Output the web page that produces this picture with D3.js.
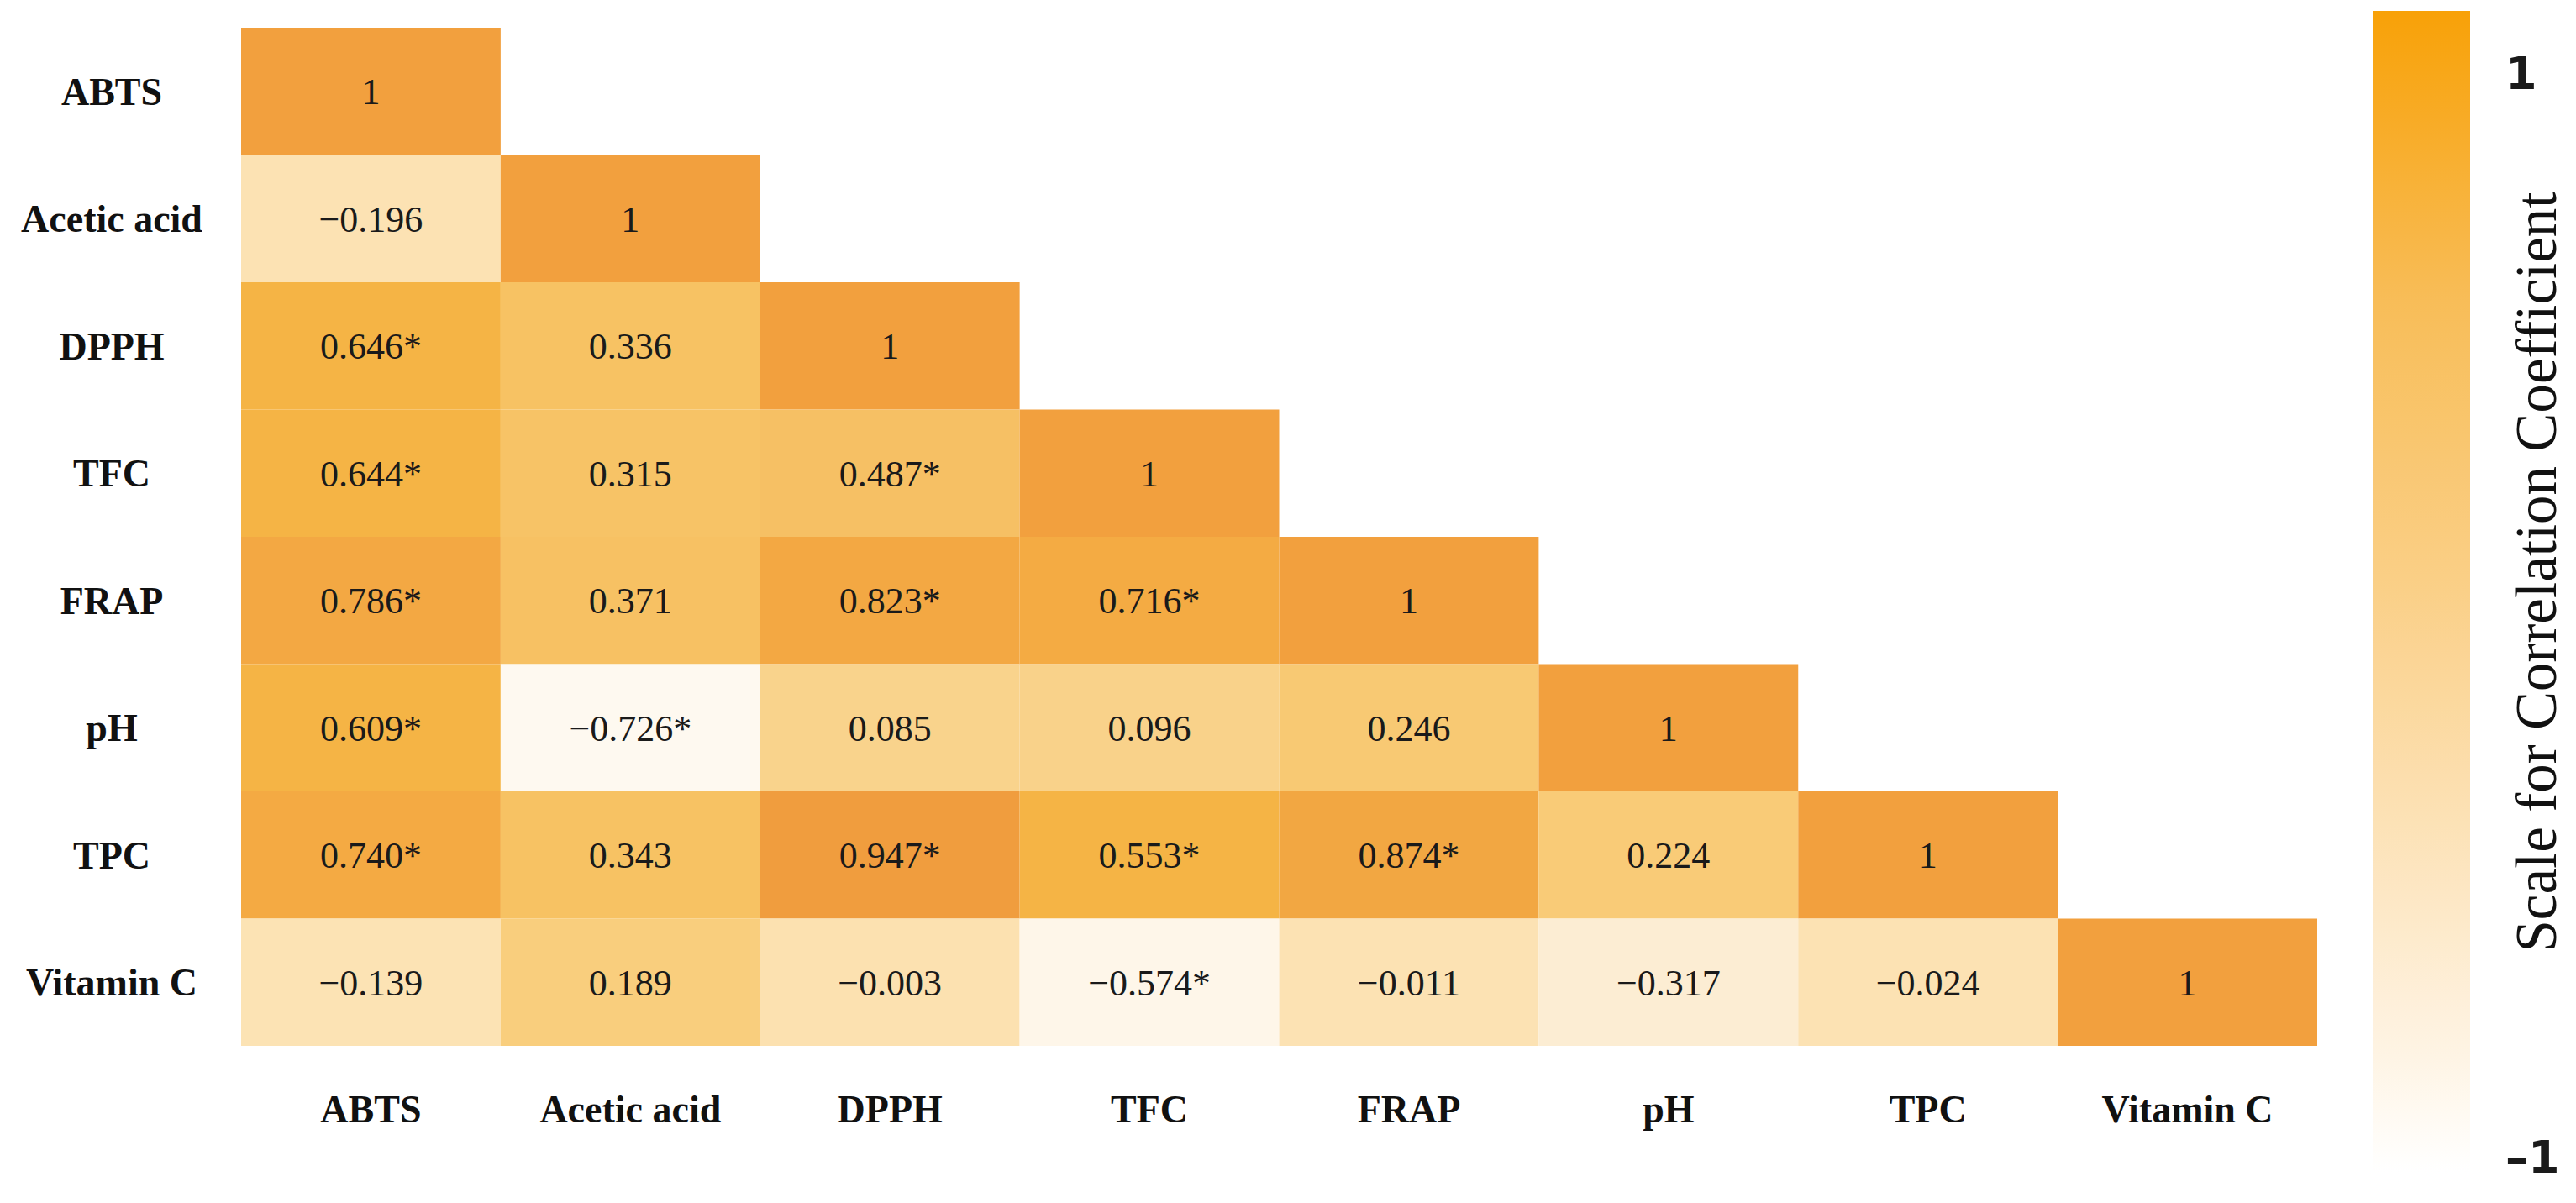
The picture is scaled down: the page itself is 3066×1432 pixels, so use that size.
<!DOCTYPE html>
<html>
<head>
<meta charset="utf-8">
<script src="https://cdn.jsdelivr.net/npm/d3@7"></script>
<style>
  html, body { margin: 0; padding: 0; background: #ffffff; }
  svg { display: block; }
</style>
</head>
<body>
<svg id="chart" width="3066" height="1432"></svg>
<script>
// ---- data ----
const variables = ["ABTS", "Acetic acid", "DPPH", "TFC", "FRAP", "pH", "TPC", "Vitamin C"];
// lower-triangle correlation rows (row i has i+1 entries)
const rABTS      = [1];
const rAcetic    = [-0.196, 1];
const rDPPH      = [0.646, 0.336, 1];
const rTFC       = [0.644, 0.315, 0.487, 1];
const rFRAP      = [0.786, 0.371, 0.823, 0.716, 1];
const rPH        = [0.609, -0.726, 0.085, 0.096, 0.246, 1];
const rTPC       = [0.740, 0.343, 0.947, 0.553, 0.874, 0.224, 1];
const rVitC      = [-0.139, 0.189, -0.003, -0.574, -0.011, -0.317, -0.024, 1];
// significance marks (*) per row
const sABTS   = [0];
const sAcetic = [0, 0];
const sDPPH   = [1, 0, 0];
const sTFC    = [1, 0, 1, 0];
const sFRAP   = [1, 0, 1, 1, 0];
const sPH     = [1, 1, 0, 0, 0, 0];
const sTPC    = [1, 0, 1, 1, 1, 0, 0];
const sVitC   = [0, 0, 0, 1, 0, 0, 0, 0];
const colorbarTicks = [1, -1];
const colorbarTitle = "Scale for Correlation Coefficient";

const rows = [rABTS, rAcetic, rDPPH, rTFC, rFRAP, rPH, rTPC, rVitC];
const sigs = [sABTS, sAcetic, sDPPH, sTFC, sFRAP, sPH, sTPC, sVitC];
const cells = [];
rows.forEach((vals, i) => vals.forEach((v, j) => cells.push({
  row: variables[i], col: variables[j], value: v, sig: sigs[i][j] === 1
})));

// ---- layout ----
const svg = d3.select("#chart");
const serif = "'Liberation Serif', 'Times New Roman', serif";

const x = d3.scaleBand().domain(variables).range([287, 2758]).padding(0);
const y = d3.scaleBand().domain(variables).range([33, 1245]).padding(0);

const cellColor = d3.scaleLinear()
  .domain([-1, -0.726, -0.574, -0.317, -0.196, -0.15, -0.01, 0.085, 0.2, 0.33, 0.49, 0.55, 0.65, 0.72, 0.8, 0.9, 0.947, 1])
  .range(["#ffffff", "#fef9f0", "#fef6e9", "#fcedd3", "#fce2b3", "#fce3b4", "#fce2b3", "#f9d38c", "#f9cd7b",
          "#f7c263", "#f6c064", "#f5b445", "#f5b445", "#f4aa43", "#f3a843", "#f2a641", "#f09d3e", "#f2a03e"])
  .clamp(true);

const fmt = v => (v === 1 ? "1" : (v < 0 ? "\u2212" : "") + d3.format(".3f")(Math.abs(v)));

// cells
svg.append("g").selectAll("rect")
  .data(cells).join("rect")
  .attr("x", d => x(d.col))
  .attr("y", d => y(d.row))
  .attr("width", x.bandwidth())
  .attr("height", y.bandwidth())
  .attr("fill", d => cellColor(d.value));

// cell values
svg.append("g").selectAll("text")
  .data(cells).join("text")
  .attr("x", d => x(d.col) + x.bandwidth() / 2)
  .attr("y", d => y(d.row) + y.bandwidth() / 2)
  .attr("dy", "0.35em")
  .attr("text-anchor", "middle")
  .style("font-family", serif)
  .style("font-size", "44px")
  .attr("fill", "#1a1a1a")
  .text(d => fmt(d.value) + (d.sig ? "*" : ""));

// row labels (left axis)
const yAxis = svg.append("g")
  .attr("transform", "translate(287,0)")
  .call(d3.axisLeft(y).tickSize(0).tickPadding(0));
yAxis.select(".domain").remove();
yAxis.selectAll("text")
  .attr("x", 133 - 287)
  .attr("dy", "0.35em")
  .attr("text-anchor", "middle")
  .style("font-family", serif)
  .style("font-weight", "bold")
  .style("font-size", "46px")
  .attr("fill", "#111");

// column labels (bottom axis)
const xAxis = svg.append("g")
  .attr("transform", "translate(0,1245)")
  .call(d3.axisBottom(x).tickSize(0).tickPadding(0));
xAxis.select(".domain").remove();
xAxis.selectAll("text")
  .attr("y", 75)
  .attr("dy", "0.35em")
  .style("font-family", serif)
  .style("font-weight", "bold")
  .style("font-size", "46px")
  .attr("fill", "#111");

// ---- colour bar ----
const barColor = d3.scaleLinear()
  .domain([-1, -0.8, -0.5, 0, 0.5, 1])
  .range(["#ffffff", "#fef4e4", "#fde6c2", "#fad088", "#f8bd58", "#f8a108"]);

const defs = svg.append("defs");
const grad = defs.append("linearGradient")
  .attr("id", "cbar").attr("x1", 0).attr("y1", 1).attr("x2", 0).attr("y2", 0);
d3.range(0, 1.0001, 0.05).forEach(t => {
  grad.append("stop")
    .attr("offset", t)
    .attr("stop-color", barColor(-1 + 2 * t));
});
svg.append("rect")
  .attr("x", 2824).attr("y", 13)
  .attr("width", 116).attr("height", 1382)
  .attr("fill", "url(#cbar)");

const cbScale = d3.scaleLinear().domain([-1, 1]).range([1378, 88]);
const cbAxis = svg.append("g")
  .attr("transform", "translate(2982,0)")
  .call(d3.axisRight(cbScale).tickValues(colorbarTicks).tickSize(0).tickPadding(0)
    .tickFormat(d => (d < 0 ? "\u2013" : "") + Math.abs(d)));
cbAxis.select(".domain").remove();
cbAxis.selectAll("text")
  .style("font-family", "'DejaVu Sans', sans-serif")
  .style("font-weight", "bold")
  .style("font-size", "54px")
  .attr("fill", "#1a1a1a");

svg.append("text")
  .attr("transform", "translate(3042,681) rotate(-90)")
  .attr("text-anchor", "middle")
  .style("font-family", serif)
  .style("font-size", "69px")
  .attr("fill", "#111")
  .text(colorbarTitle);
</script>
</body>
</html>
